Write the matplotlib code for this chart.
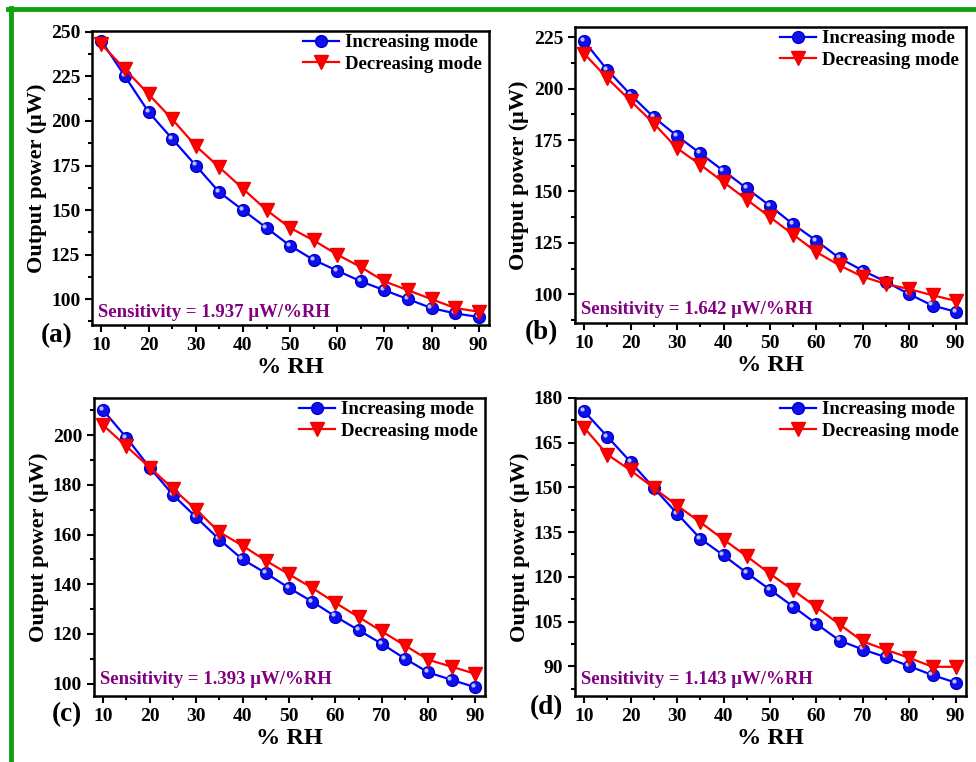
import numpy as np
import matplotlib
matplotlib.use("Agg")
from matplotlib import pyplot as plt
from matplotlib.ticker import MultipleLocator, AutoMinorLocator
from matplotlib.transforms import offset_copy

plt.rcParams.update({
    'font.family': 'Liberation Serif',
    'font.weight': 'bold',
    'axes.labelweight': 'bold',
})

# % RH values
rh = [10, 15, 20, 25, 30, 35, 40, 45, 50, 55, 60, 65, 70, 75, 80, 85, 90]

# output power (uW)
inc_a = [245, 225, 205, 190, 175, 160, 150, 140, 130, 122, 116, 110, 105, 100, 95, 92, 90]
dec_a = [243, 229, 215, 201, 186, 174, 162, 150, 140, 133, 125, 118, 110, 105, 100, 95, 93]

inc_b = [223, 209, 197, 186, 177, 168.5, 160, 151.5, 143, 134, 126, 117.5, 111.5, 106, 100, 94.5, 91.5]
dec_b = [217, 205, 194, 183, 171, 163, 154.5, 146, 137.5, 129, 120.5, 114, 108.5, 105, 102.5, 99.5, 96.8]

inc_c = [210, 199, 187, 176, 167, 158, 150, 144.5, 138.5, 133, 127, 121.5, 116, 110, 104.5, 101.5, 98.6]
dec_c = [204, 195.5, 187, 178.5, 170, 161, 155.5, 149.5, 144, 138.5, 132.5, 126.8, 121, 115.3, 109.6, 106.8, 104]

inc_d = [175.5, 167, 158.5, 149.8, 141.2, 132.8, 127.2, 121.3, 115.7, 110, 104.2, 98.6, 95.6, 93, 90, 87, 84.5]
dec_d = [170, 161, 155.7, 149.8, 143.9, 138.3, 132.5, 126.9, 121, 115.5, 109.8, 104, 98.3, 95.5, 92.8, 89.8, 89.8]

panels = [
    ('(a)', inc_a, dec_a, '1.937', (85.5, 250.5), 25),
    ('(b)', inc_b, dec_b, '1.642', (86, 230), 25),
    ('(c)', inc_c, dec_c, '1.393', (95, 215), 20),
    ('(d)', inc_d, dec_d, '1.143', (80, 180), 15),
]

rects = [
    [0.0943, 0.5735, 0.4068, 0.3858],
    [0.5891, 0.5761, 0.4006, 0.3885],
    [0.0963, 0.0866, 0.4006, 0.3911],
    [0.5891, 0.0866, 0.4006, 0.3911],
]
tags = [(57, 336), (541, 333), (67, 715), (546, 708)]
sens_y = [0.044, 0.044, 0.054, 0.054]

fig = plt.figure(figsize=(9.76, 7.62), dpi=100)

# green frame (top and left)
fig.add_artist(plt.Line2D([8 / 976, 1], [1 - 9 / 762] * 2, color='#10a010', lw=3.5))
fig.add_artist(plt.Line2D([10.5 / 976] * 2, [0, 1 - 7.5 / 762], color='#10a010', lw=3.5))

for i, (tag, inc, dec, sens, ylim, step) in enumerate(panels):
    ax = fig.add_axes(rects[i])
    ax.plot(rh, inc, '-o', color='#0000ff', lw=1.6, ms=8.5, mfc='#1010ee', mec='#0000cc',
            label='Increasing mode', zorder=3)
    # little shine on the balls
    hl = offset_copy(ax.transData, fig=fig, x=-1.5, y=1.5, units='points')
    ax.plot(rh, inc, 'o', ms=3, color='#c8d8ff', mec='none', alpha=0.9, transform=hl, zorder=3)
    ax.plot(rh, dec, '-v', color='#ff0000', lw=1.6, ms=10, mfc='#ff0000', mec='#ee0000',
            label='Decreasing mode', zorder=4)

    ax.set_xlim(8, 92.2)
    ax.set_ylim(*ylim)
    ax.xaxis.set_major_locator(MultipleLocator(10))
    ax.xaxis.set_minor_locator(AutoMinorLocator(2))
    ax.yaxis.set_major_locator(MultipleLocator(step))
    ax.yaxis.set_minor_locator(AutoMinorLocator(2))
    ax.tick_params(which='both', direction='out', width=1.5, labelsize=14, top=False, right=False)
    ax.tick_params(which='major', length=5)
    ax.tick_params(which='minor', length=3)
    for s in ax.spines.values():
        s.set_linewidth(1.8)

    ax.set_xlabel('% RH', fontsize=17.5, labelpad=2)
    ax.set_ylabel('Output power (\u03bcW)', fontsize=16, labelpad=3)

    ax.legend(loc='upper right', bbox_to_anchor=(1.0, 1.015), frameon=False, fontsize=13.5,
              handlelength=1.9, handletextpad=0.3, labelspacing=0.25, borderaxespad=0.0)
    ax.text(0.015, sens_y[i], 'Sensitivity = ' + sens + ' \u03bcW/%RH', transform=ax.transAxes,
            color='#800080', fontsize=13.5, fontweight='bold', va='center', ha='left')
    fig.text(tags[i][0] / 976, 1 - tags[i][1] / 762, tag, fontsize=19.5, fontweight='bold',
             ha='center', va='center')

fig.savefig('out.png', dpi=100)
